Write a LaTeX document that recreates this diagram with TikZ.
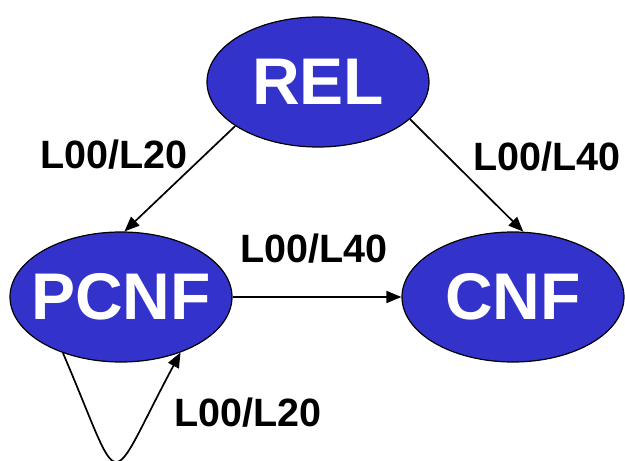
\documentclass[tikz,border=0pt]{standalone}
\usepackage{fontspec}
\setmainfont{Liberation Sans}
\usetikzlibrary{shapes.geometric,arrows.meta}
\definecolor{nodeblue}{HTML}{3333CC}
\tikzset{
  state/.style={ellipse, draw=black, line width=1.2pt, fill=nodeblue, text=white,
    minimum width=222pt, minimum height=130pt, inner xsep=-15pt, inner ysep=0pt,
    font=\fontsize{66}{66}\selectfont\bfseries},
  lbl/.style={font=\fontsize{39.5}{39.5}\selectfont\bfseries, inner sep=0pt},
  arr/.style={line width=1.7pt, -{Triangle[length=15pt,width=12pt]}}
}
\begin{document}
\begin{tikzpicture}[x=1pt,y=-1pt]
\useasboundingbox (0,0) rectangle (625,461);
\node[state] (rel) at (318,82) {REL};
\node[state] (pcnf) at (121,297) {PCNF};
\node[state] (cnf) at (513,297) {CNF};
\draw[arr] (rel.208.5) -- (pcnf.87);
\draw[arr] (rel.338.6) -- (cnf.81);
\draw[arr] (pcnf.east) -- (cnf.west);
\draw[arr] (pcnf.224) .. controls +(62,145) and +(-76,142) .. (pcnf.317);
\node[lbl] (l1) at (114,155) {L00/L20};
\node[lbl] (l2) at (547,157) {L00/L40};
\node[lbl] (l3) at (314,249) {L00/L40};
\node[lbl] (l4) at (248,413) {L00/L20};
\end{tikzpicture}
\end{document}
